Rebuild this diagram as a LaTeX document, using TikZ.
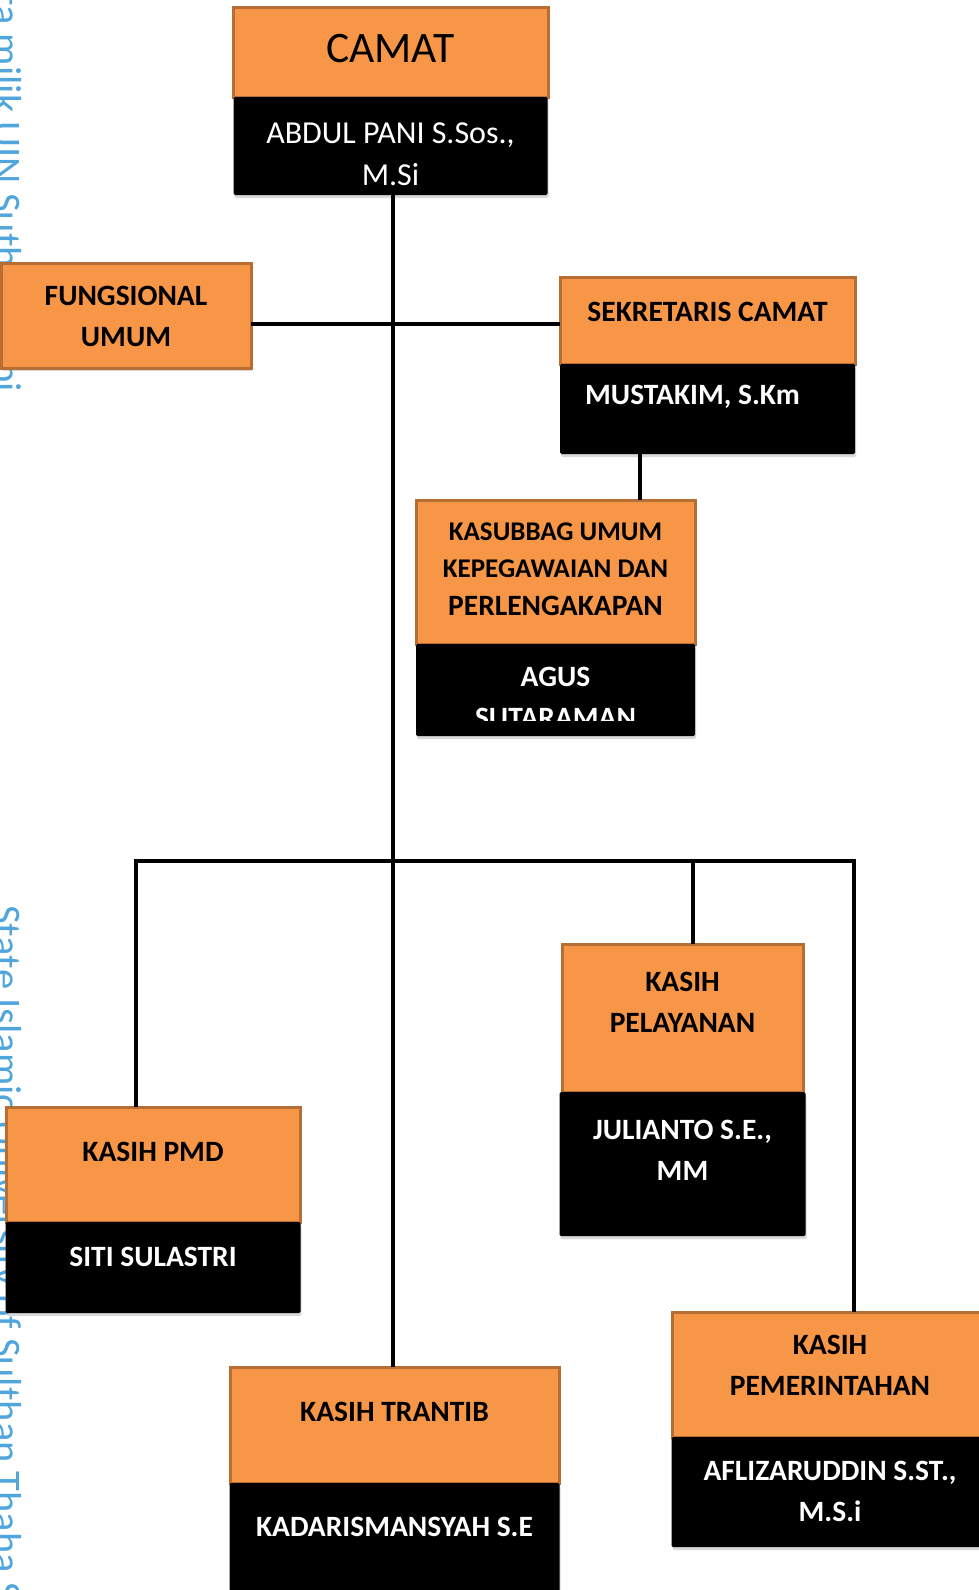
\documentclass[tikz,border=0pt]{standalone}
\usepackage{fontspec}
\setmainfont{Carlito}
\usetikzlibrary{positioning,shadows}
\definecolor{jingga}{RGB}{247,150,70}
\definecolor{jinggatua}{RGB}{182,110,52}
\definecolor{birumuda}{RGB}{80,165,220}

\begin{document}
\begin{tikzpicture}[x=1pt, y=-1pt,
    jabatan/.style={rectangle, draw=jinggatua, line width=3pt, fill=jingga,
      inner sep=0pt, outer sep=0pt,
      drop shadow={shadow xshift=1pt, shadow yshift=-3pt, opacity=.3}},
    pejabat/.style={rectangle, fill=black, rounded corners=1.5pt,
      inner sep=0pt, outer sep=0pt,
      drop shadow={shadow xshift=1pt, shadow yshift=-3pt, opacity=.3}},
    judul/.style={font=\bfseries\fontsize{29.5}{41}\selectfont, align=center, inner sep=0pt},
    nama/.style={judul, text=white},
    tandaairteks/.style={text=birumuda, font=\fontsize{40.5}{40.5}\selectfont, inner sep=0pt},
    garis/.style={line width=4pt}
    ]
    \useasboundingbox (0,0) rectangle (979,1590);
    \node[tandaairteks, rotate=-90, anchor=base east] (hakcipta) at (-6,392) {Hak cipta milik UIN Sutha Jambi};
    \node[tandaairteks, rotate=-90, anchor=base west] (stateuni) at (-6,905) {State Islamic University of Sulthan Thaha Saifuddin Jambi};

    \node[jabatan, anchor=north west, minimum width=315pt, minimum height=90pt] (camat) at (233,7) {};
    \node[pejabat, below=0pt of camat, minimum width=314pt, minimum height=98pt] (camatnama) {};
    \node[jabatan, anchor=north west, minimum width=250pt, minimum height=105pt] (fungsional) at (1,263) {};
    \node[jabatan, anchor=north west, minimum width=295pt, minimum height=87pt] (sekcam) at (560,277) {};
    \node[pejabat, below=0pt of sekcam, minimum width=295pt, minimum height=90pt] (sekcamnama) {};
    \node[jabatan, anchor=north west, minimum width=279pt, minimum height=144pt] (kasubbag) at (416,500) {};
    \node[pejabat, below=0pt of kasubbag, minimum width=279pt, minimum height=92pt] (kasubbagnama) {};
    \node[jabatan, anchor=north west, minimum width=294pt, minimum height=115pt] (pmd) at (6,1107) {};
    \node[pejabat, below=0pt of pmd, minimum width=295pt, minimum height=91pt] (pmdnama) {};
    \node[jabatan, anchor=north west, minimum width=241pt, minimum height=148pt] (pelayanan) at (562,944) {};
    \node[pejabat, below=0pt of pelayanan, minimum width=246pt, minimum height=144pt] (pelayanannama) {};
    \node[jabatan, anchor=north west, minimum width=329pt, minimum height=116pt] (trantib) at (230,1367) {};
    \node[pejabat, below=0pt of trantib, minimum width=330pt, minimum height=130pt] (trantibnama) {};
    \node[jabatan, anchor=north west, minimum width=316pt, minimum height=125pt] (pemerintahan) at (672,1312) {};
    \node[pejabat, below=0pt of pemerintahan, minimum width=317pt, minimum height=110pt] (pemerintahannama) {};

    \coordinate (buskiri) at (136,861);
    \coordinate (bustengah) at (693,861);
    \coordinate (buskanan) at (854,861);
    \draw[garis] ([xshift=2pt]camatnama.south) -- ([xshift=2pt]camatnama.south |- trantib.north);
    \draw[garis] ([yshift=-3pt]fungsional.east |- sekcam.west) -- ([yshift=-3pt]sekcam.west);
    \draw[garis] ([xshift=-68pt]sekcamnama.south) -- ([xshift=-68pt]sekcamnama.south |- kasubbag.north);
    \draw[garis] (buskiri |- pmd.north) -- (buskiri) -- (buskanan) -- (buskanan |- pemerintahan.north);
    \draw[garis] (bustengah) -- (bustengah |- pelayanan.north);

    \node[judul, font=\fontsize{43.5}{43.5}\selectfont] (camatteks) at ([yshift=-42pt]camat.north) {CAMAT};
    \node[nama, font=\fontsize{32}{42}\selectfont] (camatnamateks) at ([yshift=-57pt]camatnama.north) {ABDUL PANI S.Sos.,\\M.Si};
    \node[judul] (fungsionalteks) at ([yshift=-53pt]fungsional.north) {FUNGSIONAL\\UMUM};
    \node[judul] (sekcamteks) at ([yshift=-35pt]sekcam.north) {SEKRETARIS CAMAT};
    \node[nama, anchor=west] (mustakim) at ([xshift=25pt, yshift=-33pt]sekcamnama.north west) {MUSTAKIM, S.Km};
    \node[judul, font=\bfseries\fontsize{27}{37.5}\selectfont] (kasubbagteks) at ([yshift=-69pt]kasubbag.north)
      {KASUBBAG UMUM\\KEPEGAWAIAN DAN\\{\fontsize{29.5}{37.5}\selectfont PERLENGAKAPAN}};
    \begin{scope}
      \clip (kasubbagnama.north west) rectangle ([yshift=16pt]kasubbagnama.south east);
      \node[nama] (agus) at ([yshift=-53pt]kasubbagnama.north) {AGUS\\SUTARAMAN};
    \end{scope}
    \node[judul] (pmdteks) at ([yshift=-45pt]pmd.north) {KASIH PMD};
    \node[nama] (siti) at ([yshift=-35pt]pmdnama.north) {SITI SULASTRI};
    \node[judul] (pelayananteks) at ([yshift=-58pt]pelayanan.north) {KASIH\\PELAYANAN};
    \node[nama] (julianto) at ([yshift=-58pt]pelayanannama.north) {JULIANTO S.E.,\\MM};
    \node[judul] (trantibteks) at ([yshift=-45pt]trantib.north) {KASIH TRANTIB};
    \node[nama] (kadarisman) at ([yshift=-44pt]trantibnama.north) {KADARISMANSYAH S.E};
    \node[judul] (pemerintahanteks) at ([yshift=-53pt]pemerintahan.north) {KASIH\\PEMERINTAHAN};
    \node[nama] (aflizaruddin) at ([yshift=-54pt]pemerintahannama.north) {AFLIZARUDDIN S.ST.,\\M.S.i};
  \end{tikzpicture}
\end{document}
